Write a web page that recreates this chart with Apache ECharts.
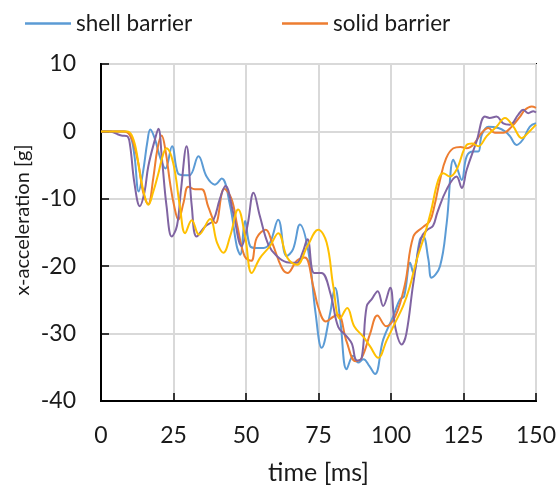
<!DOCTYPE html>
<html>
<head>
<meta charset="utf-8">
<script src="https://cdn.jsdelivr.net/npm/echarts@6/dist/echarts.min.js"></script>
<style>html,body{margin:0;padding:0;background:#fff}#c{width:560px;height:495px}</style>
</head>
<body>
<div id="c"></div>
<script>
var xTicks = [0, 25, 50, 75, 100, 125, 150];
var yTicks = [-40, -30, -20, -10, 0, 10];
var seriesNames = ['shell barrier', 'solid barrier', 'series 3', 'series 4'];

var shellBarrier = [[0,0],[8,0],[10,-0.5],[11.5,-3.5],[13,-8.9],[14.5,-6],[16,-1.5],[17,0.3],[18.5,-1],[20.5,-4],[22.2,-5.5],[24.5,-2.2],[26.5,-6.2],[28.5,-6.5],[30.5,-6.5],[33.6,-3.7],[36.4,-6.7],[39.3,-7.9],[41.6,-7],[44.5,-11],[46.8,-17],[48,-18.3],[49.7,-13.3],[51.4,-17],[53.5,-17.3],[56,-17.3],[58.3,-16.5],[61.1,-13.1],[64,-18.5],[66.2,-17.5],[68.6,-13.8],[71.5,-17.8],[74,-27],[76.1,-32.1],[79,-27],[80.7,-23.2],[82.5,-28],[84.7,-35.3],[87,-33.3],[88.7,-34.3],[90.5,-33.8],[92.5,-34.8],[94.5,-36],[97.3,-30.9],[100.8,-27.4],[103.1,-24.9],[104.5,-24.5],[106.6,-19.5],[107.7,-21],[110,-16],[111.1,-15.6],[112.9,-19],[114,-21.7],[116.9,-20],[119.2,-13.6],[121.5,-4.2],[122.8,-5.5],[124.4,-7.2],[126.1,-3.7],[128.4,-3],[130.1,-3],[131.3,-0.5],[133.6,0.7],[137,0.5],[139.3,0],[141,-0.7],[143.3,-2],[145.5,-1.2],[147.9,0.7],[150,1.2]];

var solidBarrier = [[0,0],[8,0],[9.5,-0.3],[11,-1.5],[13,-5],[14.5,-9],[16.3,-10.8],[18,-7],[19.5,-2.5],[20.9,-0.6],[22.3,-3],[23.8,-7.6],[25.2,-11],[26.7,-13.1],[28.5,-10.5],[30.1,-8.2],[32.4,-8.6],[34.7,-8.6],[37,-11.2],[39.5,-13.6],[42.5,-8.5],[45,-10],[47,-14],[49.5,-18.5],[51.8,-19.2],[53.7,-15.8],[56.8,-14.6],[59,-16.5],[62.3,-20.2],[64.3,-21],[67.5,-19.2],[70.3,-18.7],[73.2,-23],[75,-26.2],[77.5,-28.2],[80.1,-27.5],[81.8,-27.2],[84.7,-31.2],[87.8,-34.1],[89.9,-33.6],[92.8,-30],[95.3,-27.3],[98.3,-28.9],[101.5,-27.4],[104.8,-22.7],[107.7,-15.6],[111,-14.2],[113.4,-13.3],[115,-11],[116.9,-7.2],[119,-4],[121.5,-2.5],[124,-2.3],[126.1,-2.5],[128.5,-1.9],[131.3,-0.2],[133.6,0.5],[135.8,-0.2],[138.7,-0.2],[141.6,0.7],[144.5,2.2],[146.2,3.2],[148.5,3.7],[150,3.5]];

var series3 = [[0,0],[3,0],[5,-0.3],[7,-0.6],[9,-0.7],[10,-2],[11.5,-7.6],[13.4,-11.1],[15,-9],[16.3,-5.2],[18.6,-1.2],[19.8,0.4],[21,-4],[22.6,-11.1],[24.4,-15.6],[26.2,-14],[27.5,-9],[29.5,-2.2],[31.3,-11.1],[33,-15.6],[35.9,-14.1],[38.7,-13.2],[41,-10],[42.9,-8.1],[45.6,-12.1],[48.5,-17],[50.5,-14],[52.6,-9.1],[54.8,-12.6],[57.7,-16.8],[60.6,-18.5],[64,-19.4],[67.5,-19.5],[69.5,-18],[71.2,-16],[73.5,-21],[76,-21],[79.2,-24.2],[81.8,-29],[84.7,-30.4],[86.5,-31.5],[88.2,-34],[89.9,-33.6],[91.6,-26],[93.5,-24.8],[95.4,-23.7],[97.3,-25.9],[99.7,-23.2],[101.4,-28.9],[103.7,-31.6],[105.3,-30],[107.7,-22.5],[110.4,-15.8],[112.5,-14.6],[114.5,-14],[116,-12],[119.2,-8.6],[122.6,-6.7],[124.4,-8.4],[126.1,-5.7],[129.5,-1.5],[132.4,2.2],[134,2],[136.4,2.2],[138.7,1.2],[141,1],[143.9,2.5],[145.6,3.2],[147.3,2.7],[149.1,3],[150,2.8]];

var series4 = [[0,0],[9,0],[10.5,-0.5],[12,-2.5],[13.4,-6.2],[15,-9.5],[16.3,-10.9],[18,-9],[19.8,-6.2],[21.5,-3.3],[22.6,-2.5],[24.9,-4.7],[27.2,-11.1],[29,-15.1],[31.3,-13.2],[33.8,-15.3],[37.6,-13],[40,-16.5],[42.2,-18],[44.5,-15.6],[47.3,-11.6],[49.7,-15.6],[52,-21],[54.8,-18.8],[58.3,-17],[61.1,-15.1],[64.3,-18.8],[67.5,-19.8],[71.2,-17],[74.9,-14.6],[77.8,-16.5],[80.1,-23],[82.4,-27.8],[84.9,-26.2],[87.3,-28.9],[90.5,-30.5],[92.8,-31.9],[95.6,-33.6],[98.5,-31],[101.4,-28.4],[104.2,-25.9],[106.5,-23],[108.9,-19],[111.5,-15.5],[113.7,-12],[116.3,-7.2],[118,-6.2],[120.3,-6.7],[122.6,-5.7],[126.1,-2],[128,-1.8],[130.1,-2.2],[133,-0.7],[136.4,0.7],[139.3,2],[142.2,0.7],[145.1,-1],[147.3,-0.2],[150,1]];

var colors = ['#5B9BD5', '#ED7D31', '#8064A2', '#FFC000'];
var font = 'Lato, "Open Sans", sans-serif';
var txt = '#1a1a1a';

var chart = echarts.init(document.getElementById('c'), null, {renderer: 'canvas'});
function mk(name, data, color) {
  return {name: name, type: 'line', data: data, smooth: 0.4, symbol: 'none', showSymbol: false,
          lineStyle: {color: color, width: 2}, itemStyle: {color: color}};
}
function lg(name, left) {
  return {data: [name], left: left, top: 7, icon: 'rect', itemWidth: 46, itemHeight: 2.5, itemGap: 6,
          textStyle: {fontSize: 22.5, color: txt, fontFamily: font}};
}
chart.setOption({
  animation: false,
  backgroundColor: '#fff',
  textStyle: {fontFamily: font},
  grid: {left: 101, right: 24, top: 64, bottom: 94, show: true, borderColor: '#000', borderWidth: 2, backgroundColor: 'transparent'},
  legend: [lg(seriesNames[0], 20), lg(seriesNames[1], 277)],
  graphic: [{
    type: 'text', x: 23, y: 220, rotation: Math.PI / 2,
    style: {text: 'x-acceleration [g]', fontSize: 20, fontFamily: font, fill: txt, align: 'center', verticalAlign: 'middle'}
  }],
  xAxis: {
    type: 'value', min: xTicks[0], max: xTicks[xTicks.length - 1], interval: 25,
    name: 'time [ms]', nameLocation: 'middle', nameGap: 59,
    nameTextStyle: {fontSize: 25, color: txt, fontFamily: font},
    axisLine: {show: true, onZero: false, lineStyle: {color: '#000', width: 2}},
    axisTick: {show: true, inside: true, length: 8, lineStyle: {color: '#000', width: 1.5}},
    axisLabel: {fontSize: 23, color: txt, margin: 23, fontFamily: font},
    splitLine: {show: true, lineStyle: {color: '#d9d9d9', width: 2}}
  },
  yAxis: {
    type: 'value', min: yTicks[0], max: yTicks[yTicks.length - 1], interval: 10,
    axisLine: {show: true, onZero: false, lineStyle: {color: '#000', width: 2}},
    axisTick: {show: true, inside: true, length: 8, lineStyle: {color: '#000', width: 1.5}},
    axisLabel: {fontSize: 23, color: txt, margin: 25, fontFamily: font},
    splitLine: {show: true, lineStyle: {color: '#d9d9d9', width: 2}}
  },
  series: [
    mk(seriesNames[0], shellBarrier, colors[0]),
    mk(seriesNames[1], solidBarrier, colors[1]),
    mk(seriesNames[2], series3, colors[2]),
    mk(seriesNames[3], series4, colors[3])
  ]
});
</script>
</body>
</html>
